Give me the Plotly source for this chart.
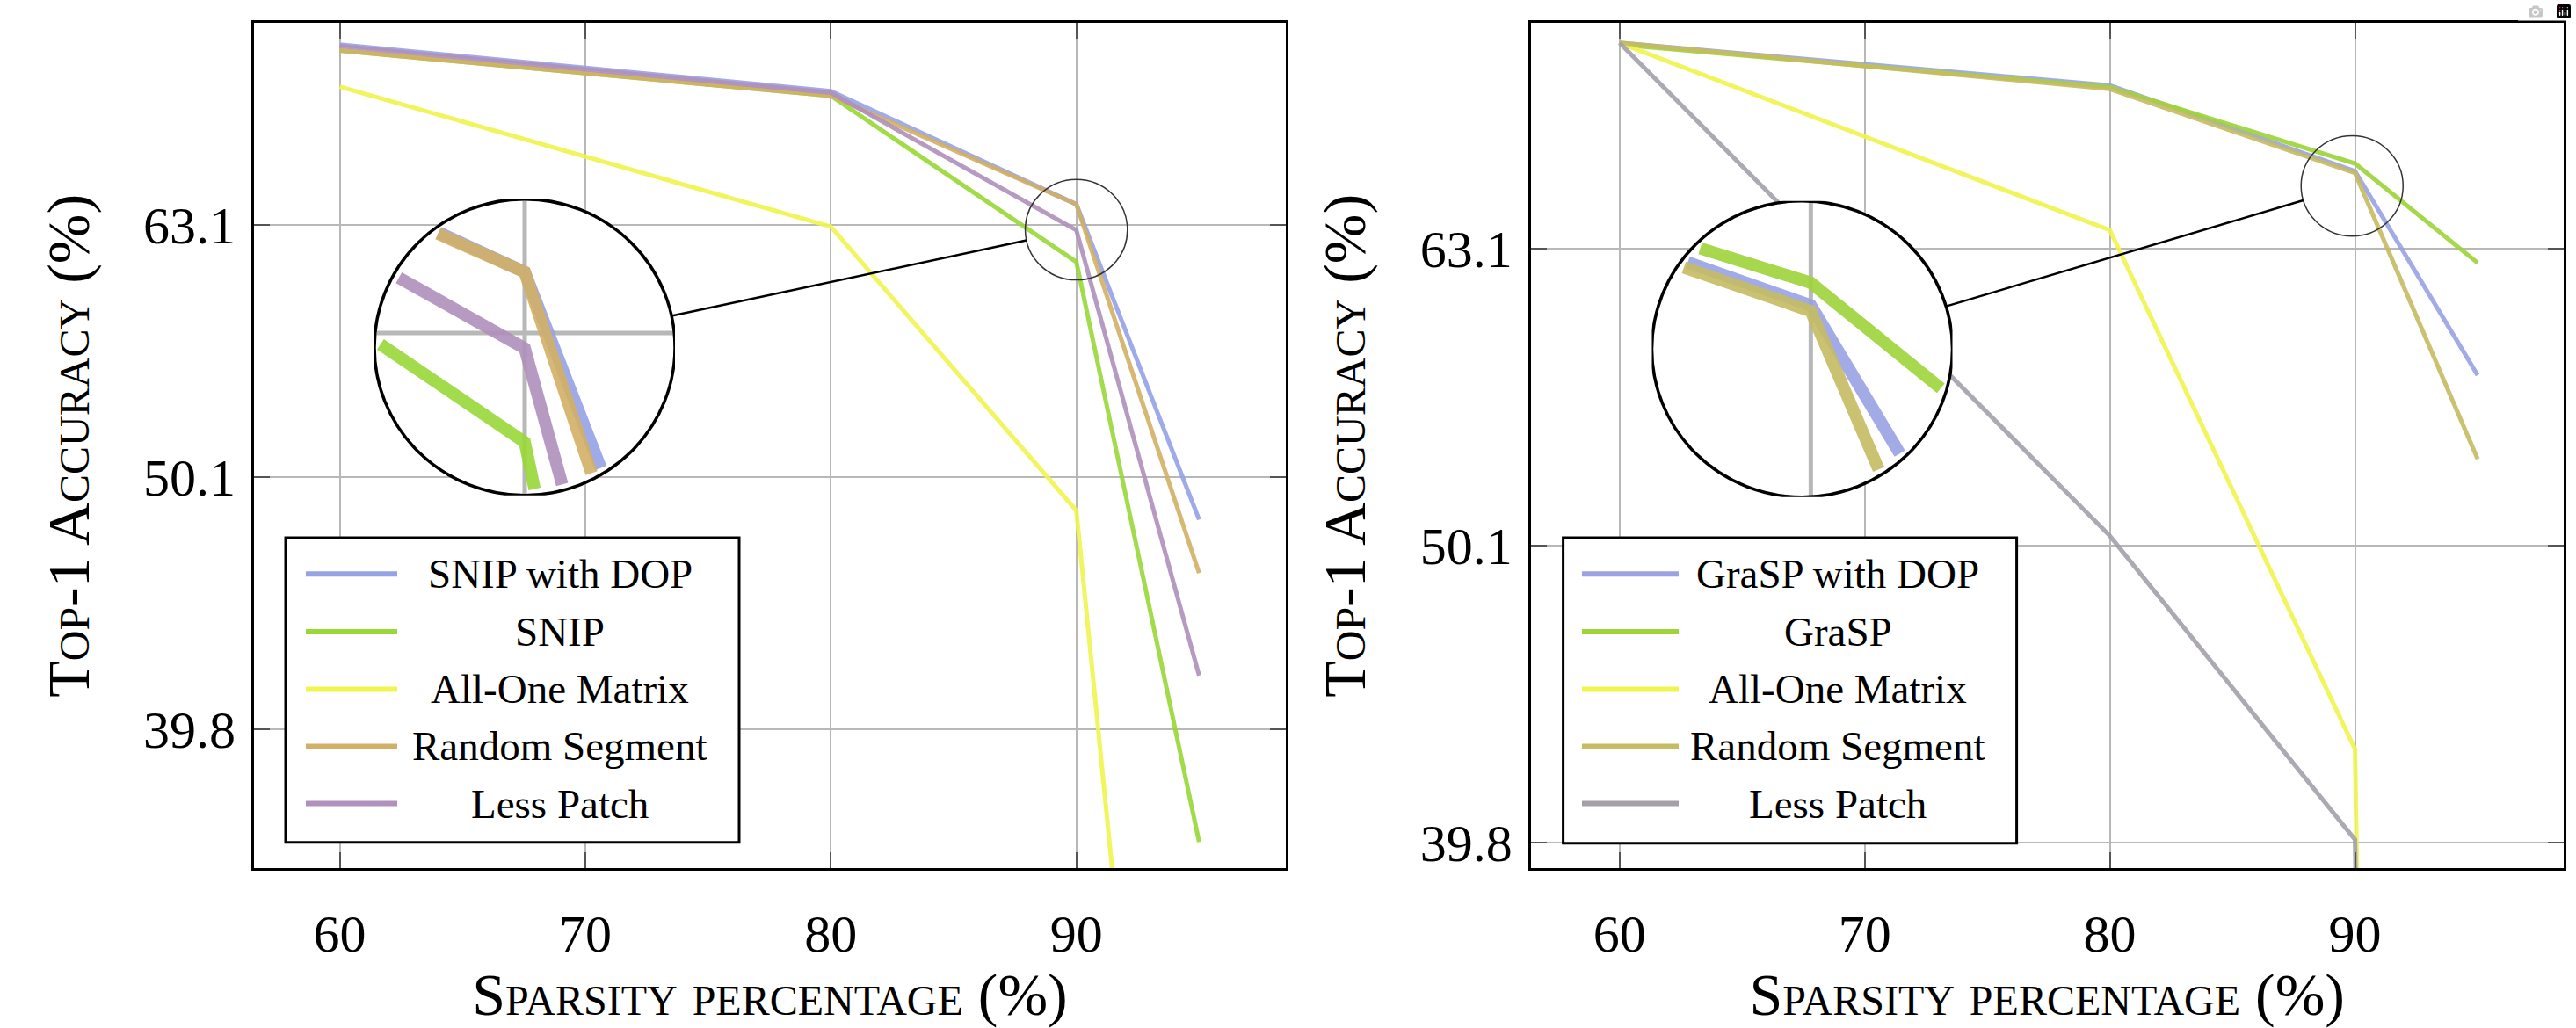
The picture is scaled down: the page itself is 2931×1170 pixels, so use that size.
import numpy as np
import plotly.graph_objects as go

W, H = 2931, 1170

# ---------------- data ----------------
sparsity = [60, 80, 90, 95]

names_left = ["SNIP with DOP", "SNIP", "All-One Matrix", "Random Segment", "Less Patch"]
snip_dop = [74.4, 71.3, 64.3, 48.2]
snip = [74.0, 71.0, 61.0, 35.9]
allone_left = [71.6, 63.0, 48.6, 15.8]
randseg_left = [74.0, 71.0, 64.3, 45.9]
lesspatch_left = [74.3, 71.2, 62.8, 41.8]

names_right = ["GraSP with DOP", "GraSP", "All-One Matrix", "Random Segment", "Less Patch"]
grasp_dop = [74.0, 71.6, 67.0, 57.2]
grasp = [73.9, 71.5, 67.4, 62.4]
allone_right = [74.0, 64.0, 42.8, 0.1]
randseg_right = [74.0, 71.4, 66.9, 53.6]
lesspatch_right = [74.0, 50.5, 39.9, 0.1]

x_ticks = [60, 70, 80, 90]
y_tick_exponents = [1.6, 1.7, 1.8]
y_tick_labels = ["39.8", "50.1", "63.1"]

x_title = "Sparsity percentage (%)"
y_title = "Top-1 Accuracy (%)"

# ---------------- styles / layout geometry ----------------
colors_left = ["#95a3e6", "#98d838", "#f0f54e", "#d2b066", "#b090bc"]
colors_right = ["#9aa2e4", "#9ed43a", "#f0f54e", "#c6bc62", "#a4a0aa"]
FONT = "Liberation Serif, Times New Roman, serif"
GRID = "#b8b8b8"

panels = [
    dict(names=names_left, series=[snip_dop, snip, allone_left, randseg_left, lesspatch_left],
         colors=colors_left,
         px=(289, 1463), py=(26.7, 1003), xr=[56.51, 98.53], yr=[1.5446, 1.8801],
         zc=(90.0, 1.7981), zh=(2.08, 0.01993), big=(597, 401, 171),
         legbox=(325, 841, 621, 973), legline=(348, 452), legtext=637),
    dict(names=names_right, series=[grasp_dop, grasp, allone_right, randseg_right, lesspatch_right],
         colors=colors_right,
         px=(1741.7, 2916.7), py=(26.7, 1003), xr=[56.38, 98.5], yr=[1.5913, 1.8759],
         zc=(89.88, 1.8211), zh=(2.08, 0.0169), big=(2050.5, 403, 171),
         legbox=(1778.6, 2294.6, 621, 974), legline=(1800, 1910), legtext=2091),
]
leg_rows = [663, 729.5, 796, 862, 928]


def clip_circle(xs, ys, cx, cly, hx, hy, R=0.97):
    u = [(x - cx) / hx for x in xs]
    v = [(np.log10(y) - cly) / hy for y in ys]
    ou, ov = [], []
    for i in range(len(u) - 1):
        p0 = np.array([u[i], v[i]])
        p1 = np.array([u[i + 1], v[i + 1]])
        d = p1 - p0
        a = d @ d
        b = 2 * p0 @ d
        c = p0 @ p0 - R * R
        disc = b * b - 4 * a * c
        if a == 0 or disc <= 0:
            continue
        sq = np.sqrt(disc)
        t0 = max((-b - sq) / (2 * a), 0.0)
        t1 = min((-b + sq) / (2 * a), 1.0)
        if t0 >= t1:
            continue
        q0 = p0 + t0 * d
        q1 = p0 + t1 * d
        if ou and ou[-1] is not None and abs(ou[-1] - q0[0]) < 1e-9 and abs(ov[-1] - q0[1]) < 1e-9:
            ou.append(q1[0]); ov.append(q1[1])
        else:
            if ou:
                ou.append(None); ov.append(None)
            ou += [q0[0], q1[0]]; ov += [q0[1], q1[1]]
    X = [None if a is None else cx + a * hx for a in ou]
    Y = [None if b is None else 10 ** (cly + b * hy) for b in ov]
    return X, Y


fig = go.Figure()
shapes, annotations = [], []
layout_axes = {}

for k, P in enumerate(panels):
    main_id = k + 1
    ins_id = k + 3
    mx = "x" if main_id == 1 else f"x{main_id}"
    my = "y" if main_id == 1 else f"y{main_id}"
    ix, iy = f"x{ins_id}", f"y{ins_id}"

    # main traces
    for name, vals, col in zip(P["names"], P["series"], P["colors"]):
        fig.add_trace(go.Scatter(x=sparsity, y=vals, mode="lines", name=name,
                                 line=dict(color=col, width=5), opacity=0.9,
                                 xaxis=mx, yaxis=my, showlegend=False))

    dx = [P["px"][0] / W, P["px"][1] / W]
    dy = [1 - P["py"][1] / H, 1 - P["py"][0] / H]
    axstyle = dict(showline=True, linecolor="black", linewidth=3, mirror="ticks",
                   ticks="inside", ticklen=18, tickwidth=2, tickcolor="#555",
                   showgrid=True, gridcolor=GRID, gridwidth=2, zeroline=False,
                   tickfont=dict(family=FONT, size=60, color="black"), fixedrange=True)
    layout_axes[("xaxis" if main_id == 1 else f"xaxis{main_id}")] = dict(
        axstyle, domain=dx, range=P["xr"], anchor=my, tickmode="array", tickvals=x_ticks,
        ticktext=[str(t) for t in x_ticks], ticklabelstandoff=20,
        title=dict(text=x_title, standoff=26,
                   font=dict(family=FONT, size=68, color="black", variant="small-caps")))
    layout_axes[("yaxis" if main_id == 1 else f"yaxis{main_id}")] = dict(
        axstyle, domain=dy, type="log", range=P["yr"], anchor=mx, tickmode="array",
        tickvals=[10 ** e for e in y_tick_exponents], ticktext=y_tick_labels,
        ticklabelstandoff=6,
        title=dict(text=y_title, standoff=40,
                   font=dict(family=FONT, size=68, color="black", variant="small-caps")))

    # inset (magnified) axes
    bx, by, br = P["big"]
    cx, cly = P["zc"]
    hx, hy = P["zh"]
    layout_axes[f"xaxis{ins_id}"] = dict(domain=[(bx - br) / W, (bx + br) / W], range=[cx - hx, cx + hx],
                                         anchor=iy, visible=False, fixedrange=True)
    layout_axes[f"yaxis{ins_id}"] = dict(domain=[1 - (by + br) / H, 1 - (by - br) / H], type="log",
                                         range=[cly - hy, cly + hy], anchor=ix, visible=False, fixedrange=True)

    # white disc behind the inset traces
    shapes.append(dict(type="circle", xref=ix, yref=iy, x0=cx - hx, x1=cx + hx,
                       y0=10 ** (cly - hy), y1=10 ** (cly + hy), fillcolor="white",
                       line=dict(width=0), layer="below"))
    # gridlines in the inset
    gx, gy = [], []
    for t in x_ticks:
        X, Y = clip_circle([t, t], [10 ** (cly - 2 * hy), 10 ** (cly + 2 * hy)], cx, cly, hx, hy, R=0.99)
        if X:
            gx += X + [None]; gy += Y + [None]
    for e in y_tick_exponents:
        X, Y = clip_circle([cx - 2 * hx, cx + 2 * hx], [10 ** e, 10 ** e], cx, cly, hx, hy, R=0.99)
        if X:
            gx += X + [None]; gy += Y + [None]
    if gx:
        fig.add_trace(go.Scatter(x=gx, y=gy, mode="lines", line=dict(color=GRID, width=5),
                                 xaxis=ix, yaxis=iy, showlegend=False, hoverinfo="skip"))
    for name, vals, col in zip(P["names"], P["series"], P["colors"]):
        X, Y = clip_circle(sparsity, vals, cx, cly, hx, hy, R=0.96)
        fig.add_trace(go.Scatter(x=X, y=Y, mode="lines", name=name,
                                 line=dict(color=col, width=14), opacity=0.9,
                                 xaxis=ix, yaxis=iy, showlegend=False, hoverinfo="skip"))
    # inset border
    shapes.append(dict(type="circle", xref=ix, yref=iy, x0=cx - hx, x1=cx + hx,
                       y0=10 ** (cly - hy), y1=10 ** (cly + hy),
                       line=dict(color="black", width=3.5), layer="above"))
    # small spy circle on main axes
    shapes.append(dict(type="circle", xref=mx, yref=my, x0=cx - hx, x1=cx + hx,
                       y0=10 ** (cly - hy), y1=10 ** (cly + hy),
                       line=dict(color="#333333", width=1.5), layer="above"))
    # connector: compute pixel centres
    sxp = P["px"][0] + (cx - P["xr"][0]) / (P["xr"][1] - P["xr"][0]) * (P["px"][1] - P["px"][0])
    syp = P["py"][1] - (cly - P["yr"][0]) / (P["yr"][1] - P["yr"][0]) * (P["py"][1] - P["py"][0])
    sr = hx / (P["xr"][1] - P["xr"][0]) * (P["px"][1] - P["px"][0])
    vx, vy = sxp - bx, syp - by
    L = np.hypot(vx, vy)
    ux, uy = vx / L, vy / L
    x0p, y0p = bx + br * ux, by + br * uy
    x1p, y1p = sxp - sr * ux, syp - sr * uy
    shapes.append(dict(type="line", xref="paper", yref="paper", x0=x0p / W, y0=1 - y0p / H,
                       x1=x1p / W, y1=1 - y1p / H, line=dict(color="black", width=2.5), layer="above"))

    # legend (drawn manually to keep centered labels)
    lx0, lx1, ly0, ly1 = P["legbox"]
    shapes.append(dict(type="rect", xref="paper", yref="paper", x0=lx0 / W, x1=lx1 / W,
                       y0=1 - ly1 / H, y1=1 - ly0 / H, fillcolor="white",
                       line=dict(color="black", width=3), layer="above"))
    for name, col, ry in zip(P["names"], P["colors"], leg_rows):
        shapes.append(dict(type="line", xref="paper", yref="paper",
                           x0=P["legline"][0] / W, x1=P["legline"][1] / W,
                           y0=1 - ry / H, y1=1 - ry / H, line=dict(color=col, width=6), layer="above"))
        annotations.append(dict(text=name, xref="paper", yref="paper", x=P["legtext"] / W, y=1 - ry / H,
                                xanchor="center", yanchor="middle", showarrow=False,
                                font=dict(family=FONT, size=47, color="black")))

fig.update_layout(
    width=W, height=H, margin=dict(l=0, r=0, t=0, b=0),
    paper_bgcolor="white", plot_bgcolor="rgba(0,0,0,0)",
    font=dict(family=FONT, color="black"),
    shapes=shapes, annotations=annotations, showlegend=False,
    **layout_axes,
)

fig.write_html("out.html", post_script="document.body.style.margin='0';document.body.style.overflow='hidden';")
